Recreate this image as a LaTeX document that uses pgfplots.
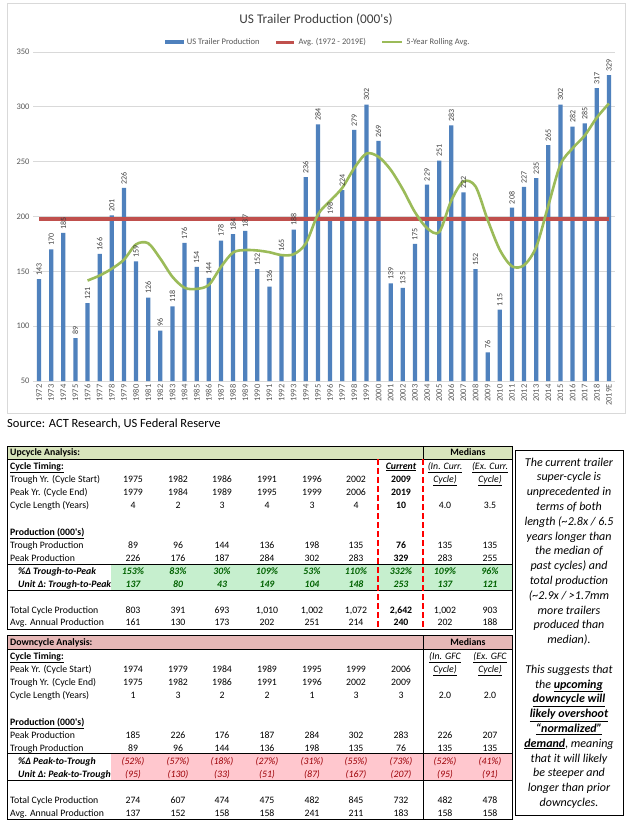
\documentclass[border=0pt]{standalone}
\usepackage{pgfplots}
\pgfplotsset{compat=1.18}
\usepackage{fontspec}
\setmainfont{Carlito}
\definecolor{barblue}{RGB}{79,129,189}
\definecolor{avgred}{RGB}{192,80,77}
\definecolor{rollgreen}{RGB}{155,187,89}
\definecolor{tickgray}{RGB}{89,89,89}
\definecolor{titlegray}{RGB}{64,64,64}
\definecolor{gridgray}{RGB}{217,217,217}
\definecolor{hdrgreen}{RGB}{216,228,188}
\definecolor{bandgreen}{RGB}{198,239,206}
\definecolor{txtgreen}{RGB}{0,97,0}
\definecolor{hdrpink}{RGB}{230,184,183}
\definecolor{bandpink}{RGB}{255,199,206}
\definecolor{txtred}{RGB}{156,0,6}
\newcommand\tabfont{\fontsize{9.8}{11}\selectfont}
\newcommand\apos{\textquotesingle}
\tikzset{tab/.style={inner sep=0pt, font=\tabfont, anchor=base}}
\newcommand\trow[4]{%
  \foreach \v [count=\i] in {#4} {%
    \pgfmathsetmacro\xx{{133,178,222,267,312,356,401,445,490}[\i-1]}%
    \node[tab,#2] at (\xx,#1+3.2) {\ifnum#3=1 \ifnum\i=7 \bfseries\fi\fi\v};%
  }%
}
\newcommand\tlab[4]{\node[tab, anchor=base west, #3] at (#1,#2+3.2) {#4};}
\begin{document}
\begin{tikzpicture}[x=1pt,y=-1pt]
\path[use as bounding box, fill=white] (0,0) rectangle (628,822);
\draw[gridgray, line width=0.8pt] (7,3) rectangle (625,413);
\node[font=\fontsize{13.3}{16}\selectfont, text=titlegray] at (316,20) {US Trailer Production (000\apos s)};
\begin{axis}[
  at={(33pt,-381pt)}, anchor=south west,
  scale only axis, width=582pt, height=329pt,
  xmin=-0.5, xmax=47.5, ymin=50, ymax=350,
  ytick={50,100,150,200,250,300,350},
  xtick={0,1,...,47},
  xticklabels={1972,1973,1974,1975,1976,1977,1978,1979,1980,1981,1982,1983,1984,1985,1986,1987,1988,1989,1990,1991,1992,1993,1994,1995,1996,1997,1998,1999,2000,2001,2002,2003,2004,2005,2006,2007,2008,2009,2010,2011,2012,2013,2014,2015,2016,2017,2018,2019E},
  axis line style={draw=none},
  major tick length=0pt,
  ymajorgrids, major grid style={gridgray, line width=0.8pt},
  tick label style={font=\fontsize{8.5}{10}\selectfont, text=tickgray},
  x tick label style={rotate=90, anchor=east},
  /pgf/number format/assume math mode=true,
  legend style={at={(axis description cs:0.49,1.030)}, anchor=center, draw=none, fill=none,
    legend columns=3, font=\fontsize{8.5}{10}\selectfont, text=tickgray,
    /tikz/every even column/.append style={column sep=13pt},
    /tikz/every odd column/.append style={column sep=1pt}},
]
\addplot[ybar, bar width=4.3pt, fill=barblue, draw=none,
  nodes near coords,
  every node near coord/.append style={rotate=90, anchor=west, inner xsep=3.5pt, font=\fontsize{8}{9}\selectfont, text=titlegray},
  legend image code/.code={\fill[barblue] (0pt,-2.3pt) rectangle (19pt,2.3pt);}]
coordinates {(0,143) (1,170) (2,185) (3,89) (4,121) (5,166) (6,201) (7,226) (8,159) (9,126)
(10,96) (11,118) (12,176) (13,154) (14,144) (15,178) (16,184) (17,187) (18,152) (19,136)
(20,165) (21,188) (22,236) (23,284) (24,198) (25,224) (26,279) (27,302) (28,269) (29,139)
(30,135) (31,175) (32,229) (33,251) (34,283) (35,222) (36,152) (37,76) (38,115) (39,208)
(40,227) (41,235) (42,265) (43,302) (44,282) (45,285) (46,317) (47,329)};
\addlegendentry{US Trailer Production}
\addplot[avgred, line width=4pt, sharp plot,
  legend image code/.code={\draw[avgred, line width=3pt] (0pt,0pt) -- (18pt,0pt);}]
coordinates {(0,197.6) (47,197.6)};
\addlegendentry{Avg. (1972 - 2019E)}
\addplot[rollgreen, line width=2.6pt, smooth, tension=0.5,
  legend image code/.code={\draw[rollgreen, line width=2.5pt] (0pt,0pt) -- (20pt,0pt);}]
coordinates {(4,141.6) (5,146.2) (6,152.4) (7,160.6) (8,174.6) (9,175.6) (10,161.6) (11,145) (12,135) (13,134)
(14,137.6) (15,154) (16,167.2) (17,169.4) (18,169) (19,167.4) (20,164.8) (21,165.6) (22,175.4) (23,201.8)
(24,214.2) (25,226) (26,244.2) (27,257.4) (28,254.4) (29,242.6) (30,224.8) (31,204) (32,189.4) (33,185.8)
(34,214.6) (35,232) (36,227.4) (37,196.8) (38,169.6) (39,154.6) (40,155.6) (41,172.2) (42,210) (43,247.4)
(44,262.2) (45,273.8) (46,290.2) (47,303)};
\addlegendentry{5-Year Rolling Avg.}
\end{axis}
\node[anchor=base west, inner sep=0, font=\fontsize{12.5}{15}\selectfont] at (7,427) {Source: ACT Research, US Federal Reserve};
% ---------------- Upcycle table
\fill[hdrgreen] (7,446) rectangle (512,459);
\fill[bandgreen] (111,564) rectangle (512,590);
\draw[line width=1pt] (7,446) rectangle (512,629);
\draw[line width=0.9pt] (7,459) -- (512,459);
\draw[line width=0.9pt] (7,564) -- (512,564);
\draw[line width=0.9pt] (7,590) -- (512,590);
\draw[line width=0.9pt] (423,446) -- (423,459);
\draw[red, line width=2pt, dash pattern=on 6pt off 3pt] (378,459) -- (378,629);
\draw[red, line width=2pt, dash pattern=on 6pt off 3pt] (423,459) -- (423,629);
\tlab{10}{452}{font=\tabfont\bfseries}{Upcycle Analysis:}
\node[tab] at (468,452+3.2) {\bfseries Medians};
\tlab{10}{466}{}{\bfseries\underline{Cycle Timing:}}
\tlab{10}{479}{}{Trough Yr. (Cycle Start)}
\tlab{10}{492}{}{Peak Yr. (Cycle End)}
\tlab{10}{505}{}{Cycle Length (Years)}
\tlab{10}{532}{}{\bfseries\underline{Production (000\apos s)}}
\tlab{10}{545}{}{Trough Production}
\tlab{10}{558}{}{Peak Production}
\tlab{18}{571}{}{\bfseries\itshape \%Δ Trough-to-Peak}
\tlab{18}{584}{}{\bfseries\itshape Unit Δ: Trough-to-Peak}
\tlab{10}{610}{}{Total Cycle Production}
\tlab{10}{622}{}{Avg. Annual Production}
\node[tab] at (401,466+3.2) {\bfseries\itshape\underline{Current}};
\node[tab] at (445,466+3.2) {\itshape\underline{(In. Curr.}};
\node[tab] at (490,466+3.2) {\itshape\underline{(Ex. Curr.}};
\node[tab] at (445,479+3.2) {\itshape\underline{Cycle)}};
\node[tab] at (490,479+3.2) {\itshape\underline{Cycle)}};
\trow{479}{}{1}{1975,1982,1986,1991,1996,2002,2009}
\trow{492}{}{1}{1979,1984,1989,1995,1999,2006,2019}
\trow{505}{}{1}{4,2,3,4,3,4,10,4.0,3.5}
\trow{545}{}{1}{89,96,144,136,198,135,76,135,135}
\trow{558}{}{1}{226,176,187,284,302,283,329,283,255}
\trow{571}{text=txtgreen, font=\tabfont\bfseries\itshape}{0}{153\%,83\%,30\%,109\%,53\%,110\%,332\%,109\%,96\%}
\trow{584}{text=txtgreen, font=\tabfont\bfseries\itshape}{0}{137,80,43,149,104,148,253,137,121}
\trow{610}{}{1}{803,391,693,{1,010},{1,002},{1,072},{2,642},{1,002},903}
\trow{622}{}{1}{161,130,173,202,251,214,240,202,188}
% ---------------- Downcycle table
\fill[hdrpink] (7,635) rectangle (512,649);
\fill[bandpink] (111,753) rectangle (512,780);
\draw[line width=1pt] (7,635) rectangle (512,819);
\draw[line width=0.9pt] (7,649) -- (512,649);
\draw[line width=0.9pt] (7,753) -- (512,753);
\draw[line width=0.9pt] (7,780) -- (512,780);
\draw[line width=0.9pt] (423,635) -- (423,819);
\tlab{10}{642}{font=\tabfont\bfseries}{Downcycle Analysis:}
\node[tab] at (468,642+3.2) {\bfseries Medians};
\tlab{10}{656}{}{\bfseries\underline{Cycle Timing:}}
\tlab{10}{669}{}{Peak Yr. (Cycle Start)}
\tlab{10}{682}{}{Trough Yr. (Cycle End)}
\tlab{10}{695}{}{Cycle Length (Years)}
\tlab{10}{722}{}{\bfseries\underline{Production (000\apos s)}}
\tlab{10}{735}{}{Peak Production}
\tlab{10}{748}{}{Trough Production}
\tlab{18}{761}{}{\bfseries\itshape \%Δ Peak-to-Trough}
\tlab{18}{774}{}{\bfseries\itshape Unit Δ: Peak-to-Trough}
\tlab{10}{800}{}{Total Cycle Production}
\tlab{10}{813}{}{Avg. Annual Production}
\node[tab] at (445,656+3.2) {\itshape\underline{(In. GFC}};
\node[tab] at (490,656+3.2) {\itshape\underline{(Ex. GFC}};
\node[tab] at (445,669+3.2) {\itshape\underline{Cycle)}};
\node[tab] at (490,669+3.2) {\itshape\underline{Cycle)}};
\trow{669}{}{0}{1974,1979,1984,1989,1995,1999,2006}
\trow{682}{}{0}{1975,1982,1986,1991,1996,2002,2009}
\trow{695}{}{0}{1,3,2,2,1,3,3,2.0,2.0}
\trow{735}{}{0}{185,226,176,187,284,302,283,226,207}
\trow{748}{}{0}{89,96,144,136,198,135,76,135,135}
\trow{761}{text=txtred, font=\tabfont\itshape}{0}{(52\%),(57\%),(18\%),(27\%),(31\%),(55\%),(73\%),(52\%),(41\%)}
\trow{774}{text=txtred, font=\tabfont\itshape}{0}{(95),(130),(33),(51),(87),(167),(207),(95),(91)}
\trow{800}{}{0}{274,607,474,475,482,845,732,482,478}
\trow{813}{}{0}{137,152,158,158,241,211,183,158,158}
% ---------------- Text box
\draw[line width=1pt] (515,450) rectangle (623,815);
\node[align=center, inner sep=0, font=\fontsize{12}{14.8}\selectfont\itshape] at (569,633) {The current trailer\\ super-cycle is\\ unprecedented in\\ terms of both\\ length (\textasciitilde 2.8x / 6.5\\ years longer than\\ the median of\\ past cycles) and\\ total production\\ (\textasciitilde 2.9x / >1.7mm\\ more trailers\\ produced than\\ median).\\[14.8pt] This suggests that\\ the \textbf{\underline{upcoming}}\\ \textbf{\underline{downcycle will}}\\ \textbf{\underline{likely overshoot}}\\ \textbf{\underline{“normalized”}}\\ \textbf{\underline{demand}}, meaning\\ that it will likely\\ be steeper and\\ longer than prior\\ downcycles.};
\end{tikzpicture}
\end{document}
